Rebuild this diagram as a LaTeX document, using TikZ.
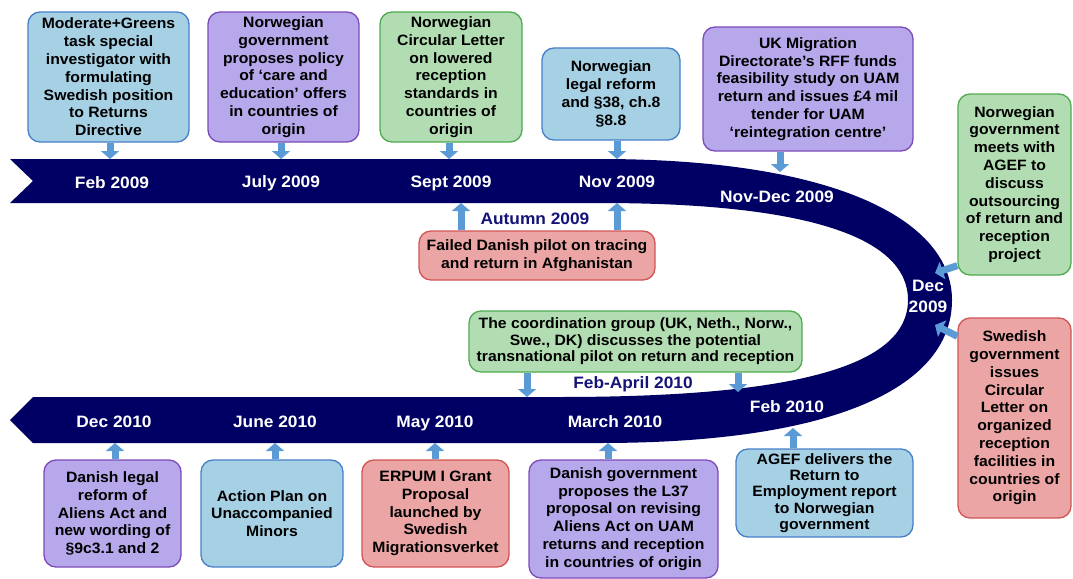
\documentclass[tikz,border=0pt]{standalone}
\usepackage{fontspec}
\setmainfont{Liberation Sans}[FakeStretch=1.05]
\usetikzlibrary{arrows.meta}
\definecolor{band}{RGB}{0,0,100}
\definecolor{navytext}{RGB}{20,20,120}
\definecolor{arrowblue}{RGB}{91,155,213}
\definecolor{fillblue}{RGB}{166,208,228}
\definecolor{lineblue}{RGB}{70,128,200}
\definecolor{fillpurple}{RGB}{182,168,234}
\definecolor{linepurple}{RGB}{125,75,185}
\definecolor{fillgreen}{RGB}{178,221,178}
\definecolor{linegreen}{RGB}{80,170,80}
\definecolor{fillred}{RGB}{236,165,165}
\definecolor{linered}{RGB}{210,85,85}
\newcommand\evfont{\fontsize{15}{17.8}\selectfont\bfseries}
\newcommand\evfonttight{\fontsize{15}{16.4}\selectfont\bfseries}
\newcommand\bandfont{\fontsize{16.5}{21}\selectfont\bfseries}
\tikzset{
  evbox/.style={draw, line width=1.3pt, rounded corners=12pt, align=center, font=\evfont, inner sep=0pt, text=black},
  bluebox/.style={evbox, fill=fillblue, draw=lineblue},
  purplebox/.style={evbox, fill=fillpurple, draw=linepurple},
  greenbox/.style={evbox, fill=fillgreen, draw=linegreen},
  redbox/.style={evbox, fill=fillred, draw=linered},
  conn/.style={draw=arrowblue, line width=7pt, -{Triangle[width=18pt,length=8pt]}},
  bandlabel/.style={text=white, font=\bandfont, align=center, inner sep=0pt},
  navylabel/.style={text=navytext, font=\bandfont, inner sep=0pt},
}
\begin{document}
\begin{tikzpicture}[x=1pt,y=-1pt]
\useasboundingbox (0,0) rectangle (1073,578);
% band
\fill[band] (10,159) -- (600,159) .. controls (840,159) and (952,222) .. (952,300)
  .. controls (952,385) and (840,443) .. (600,443) -- (33,443) -- (10,420) -- (33,397)
  -- (560,397) .. controls (800,397) and (908,365) .. (908,300)
  .. controls (908,235) and (800,203) .. (600,203) -- (10,203) -- (33,181) -- cycle;
% band labels
\node[bandlabel] (l1) at (112,183) {Feb 2009};
\node[bandlabel] (l2) at (281,183) {July 2009};
\node[bandlabel] (l3) at (451,183) {Sept 2009};
\node[bandlabel] (l4) at (617,182) {Nov 2009};
\node[bandlabel] (l5) at (777,197) {Nov-Dec 2009};
\node[bandlabel] (l6) at (928,296) {Dec\\2009};
\node[bandlabel] (l7) at (787,407) {Feb 2010};
\node[bandlabel] (l8) at (615,422) {March 2010};
\node[bandlabel] (l9) at (435,423) {May 2010};
\node[bandlabel] (l10) at (275,422) {June 2010};
\node[bandlabel] (l11) at (114,422) {Dec 2010};
\node[navylabel] (n1) at (535,219) {Autumn 2009};
\node[navylabel] (n2) at (633,384) {Feb-April 2010};
% boxes
\node[bluebox, minimum width=161pt, minimum height=130pt] (b1) at (108.5,77) {Moderate+Greens\\task special\\investigator with\\formulating\\Swedish position\\to Returns\\Directive};
\node[purplebox, minimum width=151pt, minimum height=130pt] (b2) at (283.5,77) {Norwegian\\government\\proposes policy\\of ‘care and\\education’ offers\\in countries of\\origin};
\node[greenbox, minimum width=142pt, minimum height=130pt] (b3) at (451,77) {Norwegian\\Circular Letter\\on lowered\\reception\\standards in\\countries of\\origin};
\node[bluebox, minimum width=138pt, minimum height=92pt] (b4) at (611,94) {Norwegian\\legal reform\\and §38, ch.8\\§8.8};
\node[purplebox, minimum width=210pt, minimum height=124pt] (b5) at (808,89) {UK Migration\\Directorate’s RFF funds\\feasibility study on UAM\\return and issues £4 mil\\tender for UAM\\‘reintegration centre’};
\node[greenbox, minimum width=113pt, minimum height=181pt] (b6) at (1014.5,184.5) {Norwegian\\government\\meets with\\AGEF to\\discuss\\outsourcing\\of return and\\reception\\project};
\node[redbox, minimum width=236pt, minimum height=49pt] (b7) at (537,255.5) {Failed Danish pilot on tracing\\and return in Afghanistan};
\node[greenbox, font=\evfonttight, minimum width=333pt, minimum height=61pt] (b8) at (635.5,341.5) {The coordination group (UK, Neth., Norw.,\\Swe., DK) discusses the potential\\transnational pilot on return and reception};
\node[redbox, minimum width=113pt, minimum height=200pt] (b9) at (1014.5,418) {Swedish\\government\\issues\\Circular\\Letter on\\organized\\reception\\facilities in\\countries of\\origin};
\node[purplebox, minimum width=137pt, minimum height=107pt] (b10) at (112.5,513.5) {Danish legal\\reform of\\Aliens Act and\\new wording of\\§9c3.1 and 2};
\node[bluebox, minimum width=142pt, minimum height=107pt] (b11) at (272,513.5) {Action Plan on\\Unaccompanied\\Minors};
\node[redbox, minimum width=147pt, minimum height=107pt] (b12) at (435.5,513.5) {ERPUM I Grant\\Proposal\\launched by\\Swedish\\Migrationsverket};
\node[purplebox, minimum width=189pt, minimum height=118pt] (b13) at (623.5,519) {Danish government\\proposes the L37\\proposal on revising\\Aliens Act on UAM\\returns and reception\\in countries of origin};
\node[bluebox, font=\evfonttight, minimum width=177pt, minimum height=88pt] (b14) at (824.5,493) {AGEF delivers the\\Return to\\Employment report\\to Norwegian\\government};
% arrow tips
\coordinate (t1) at (110,159);
\coordinate (t2) at (281,159);
\coordinate (t3) at (449,159);
\coordinate (t4) at (617,159);
\coordinate (t5) at (780,172);
\coordinate (t6) at (935,273);
\coordinate (t7a) at (461,203);
\coordinate (t7b) at (617,203);
\coordinate (t8a) at (527,397);
\coordinate (t8b) at (738,392);
\coordinate (t9) at (935,325);
\coordinate (t10) at (115,443);
\coordinate (t11) at (275,443);
\coordinate (t12) at (435,443);
\coordinate (t13) at (608,443);
\coordinate (t14) at (793,428);
% arrows
\draw[conn] (b1.south -| t1) -- (t1);
\draw[conn] (b2.south -| t2) -- (t2);
\draw[conn] (b3.south -| t3) -- (t3);
\draw[conn] (b4.south -| t4) -- (t4);
\draw[conn] (b5.south -| t5) -- (t5);
\draw[conn] ([yshift=10pt]b6.south west) -- (t6);
\draw[conn] (b7.north -| t7a) -- (t7a);
\draw[conn] (b7.north -| t7b) -- (t7b);
\draw[conn] (b8.south -| t8a) -- (t8a);
\draw[conn] (b8.south -| t8b) -- (t8b);
\draw[conn] ([yshift=-19pt]b9.north west) -- (t9);
\draw[conn] (b10.north -| t10) -- (t10);
\draw[conn] (b11.north -| t11) -- (t11);
\draw[conn] (b12.north -| t12) -- (t12);
\draw[conn] (b13.north -| t13) -- (t13);
\draw[conn] (b14.north -| t14) -- (t14);
\end{tikzpicture}
\end{document}
